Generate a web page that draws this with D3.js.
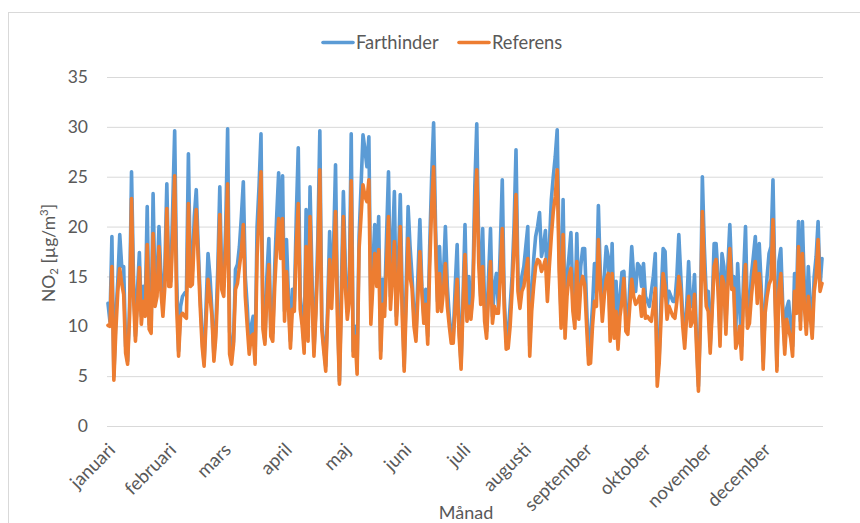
<!DOCTYPE html>
<html><head><meta charset="utf-8">
<script src="https://cdn.jsdelivr.net/npm/d3@7"></script>
<style>
body{margin:0;background:#fff}
svg{display:block}
text{font-family:Lato,"Open Sans",sans-serif;fill:#595959}
</style>
</head><body>
<svg id="c" width="860" height="523"></svg>
<script>
const months = ["januari","februari","mars","april","maj","juni","juli","augusti","september","oktober","november","december"];
const yTicks = [0,5,10,15,20,25,30,35];
const seriesNames = ["Farthinder","Referens"];
const year = 2019;

const farthinder = [
12.3,10.5,19.0,5.0,11,14.5,19.2,16.0,16.0,8.0,
6.5,12.0,25.5,15,9.0,13.5,17.4,11,14,12,
22,10.2,9.8,23.3,13,14.5,20,15,12,16,
24.3,14.5,14.5,22,29.6,15,7.5,12,13,13.3,
13.5,27.3,15,15.5,21,23.7,18,13,9,6.3,
12,17.3,15,11.5,7,10,16,24,14.5,14,
20,29.8,9.5,7,8.5,15.7,16.2,18,21,24.5,
15,12,8,10,11,7,20,24,29.3,10.5,
8.5,15,18.8,10,9.3,16,21,25.4,18,25.1,
11.5,18.7,13,8.5,13.7,12.5,21,27.9,13,11,
8,21.7,9,24,15,7.5,12,19,29.6,10.5,
8,6,12,19.5,13,18,26.2,12,4.5,14,
23.5,16,11.5,13.7,29.3,7.5,10,6,19,24,
29.2,27.7,26,29,11,16,20.2,16,21,7.5,
14.7,12,19,25.5,13,18,23.5,11,16,23.2,
13,6,14,22,18,15,11,9,15,20.7,
14,11,13.7,9,18,25,30.4,20,12.5,18,
13,15,20,14,11,9,9,14,18.2,10,
6.2,13,20.2,11,15,11,14,24,30.3,18,
13,19.8,12,9.5,15,19.8,11,14,15.3,12,
18,24.7,13,8.5,9.3,12,15,20,27.7,15,
13,15,16,18,20,8,13,16.7,19,20,
21.4,17,18,19.6,14,18,22.7,25,27,29.7,
17,11,22.7,10,15,17,19.4,13,11,19.3,
12,16,17.8,17.8,12,7,9,12,16.3,13.5,
22.1,15,11.5,15,18,17,10,18.3,10,14.5,
9,13,15.4,15.5,11,10,14,18,15,13.5,
16.3,16,14,16.3,13,12.5,12,13.5,15,17.3,
5,7,13,17.8,17.5,12,13.5,13,12.5,12.5,
15,19.2,15,11,9,12,16.5,12,12,15.2,
9,4,11,25,18,13,13.5,8,12,18.3,
18.3,15,9,17.3,16,10,16,20.2,15,15,
9,16.3,12,8,15,20,11,11.5,15.2,17,
19,13.5,18.3,14,6.5,12,15,17.3,18,24.7,
14,6,16.5,17.8,12,8,11.8,12.5,10,8,
15.3,13,20.5,10.5,20.5,14,10,16,12,9.5,
15,17,20.5,14,16.8
];

const referens = [
10.1,10.0,16.0,4.6,9.5,13.5,15.8,14.3,13.2,7.3,
6.2,11,22.8,13,8.5,12,15.9,10.2,12.5,11,
18.2,9.7,9.3,19.3,12,13,18,13.5,11,14,
21.8,14,14,19,25.1,12,7.0,11,11.3,11,
10.8,22.3,14,14.2,19,21.7,16.7,12,8,6,
10.5,14.7,13,11,6.5,9,14,21.2,13.7,13,
18,24.3,7.2,6.2,8.2,13.7,14.3,16,17.5,20.2,
13,10,7.2,9,9.2,6.2,17,21,25.5,9.7,
8.2,13,16.2,9,8.5,14,18,20.8,16.8,20.8,
10.5,15.5,12,7.8,11.7,11.5,18,22.3,11.7,10,
7.3,18,8.5,21,13,7,11.3,17,25.7,9.7,
7.5,5.5,11,16.7,11.8,16,21.5,10.5,4.2,12,
21,14,10.7,12.5,24.6,7,9,5.2,17.7,21,
24.2,23,22.5,24.7,10.2,14,17.3,14,17.7,6.8,
12.2,11,16,21,11.7,15,18.5,10.2,14,20,
11,5.5,12,18.8,15,13.8,10,8.5,13,17.5,
13.5,10.3,12.2,8.2,16,22,26,18.3,11.5,15.3,
11.5,13.5,16.3,12,10,8.3,8.3,12,14.7,9,
5.7,12,17.2,10.5,12,10.7,13,21,25.7,16.3,
12.2,16,10.5,8.8,13,16.5,10.3,12,11.3,11.3,
15,19.8,11.8,7.7,7.8,10,13.5,18,23.2,13.5,
11.8,13.5,14,15.5,16.8,7,11.5,14,16,16.7,
16.5,15.5,16,16.7,12.5,16,19,21.5,23,25.7,
15.5,9.8,19.2,8.8,13,15,15.8,11.5,9.8,16.5,
10.7,14,15,14.2,10,6.2,6.3,10,12.5,12,
18.7,14,10.5,13,14.7,15.3,8.5,15.3,8.8,11.5,
7.7,11,12.5,14.8,9.5,9.2,12,14.7,13,12.2,
12.5,13,11,13.7,10.8,11,10.7,10.5,12,13.8,
4,6.3,11,15.3,14,10.7,12,11.5,11,10.8,
12.5,15,13.5,10,7.8,11,13,10,10.5,13.2,
8,3.5,10,21.5,15.5,12,11.5,7.3,11.5,16,
16.7,13.5,8,15,14.3,9.2,14,17.8,13.7,13.8,
7.8,8.5,10,6.7,13,16.2,9.8,10.3,13,15,
16.5,12.3,15.3,13,5.7,11.3,13,14.2,14.7,20.7,
13,5.5,13.5,15.3,11,7.2,10.7,9.7,8.8,7,
13.5,11.3,18,9.7,17.3,12,9.2,13,11,8.8,
13.5,15,18.7,13.5,14.3
];

const svg = d3.select("#c");
const plot = {left:107, right:823, top:77, bottom:426};
const FS = 17.5;
const FSL = 18.5;
const nDays = farthinder.length;

const x = d3.scaleLinear().domain([0, nDays]).range([plot.left, plot.right]);
const y = d3.scaleLinear().domain([0, 35]).range([plot.bottom, plot.top]);

// chart border
svg.append("rect").attr("x",8.5).attr("y",12.5).attr("width",900).attr("height",600)
  .attr("fill","none").attr("stroke","#d9d9d9").attr("stroke-width",1);

// y axis with gridlines
const gy = svg.append("g").attr("transform",`translate(${plot.left},0)`)
  .call(d3.axisLeft(y).tickValues(yTicks).tickSize(-(plot.right-plot.left)).tickPadding(19));
gy.select(".domain").remove();
gy.selectAll(".tick line").attr("stroke","#d9d9d9").attr("stroke-width",1);
gy.selectAll(".tick text").attr("font-size",FS).attr("fill","#595959")
  .style("font-family","Lato, 'Open Sans', sans-serif");

// x axis month labels
const jan1 = new Date(year,0,1);
const monthStarts = months.map((m,i)=> d3.timeDay.count(jan1, new Date(year,i,1)));
const gx = svg.append("g").attr("transform",`translate(0,${plot.bottom})`)
  .call(d3.axisBottom(x).tickValues(monthStarts.map(d=>d+0.5)).tickSize(0)
    .tickFormat((d,i)=>months[i]));
gx.select(".domain").remove();
gx.selectAll(".tick text")
  .attr("font-size",FSL).attr("fill","#595959")
  .style("font-family","Lato, 'Open Sans', sans-serif")
  .attr("text-anchor","end").attr("y",0).attr("dy",0)
  .attr("transform","translate(8,25) rotate(-45)");

// lines
const line = d3.line().x((d,i)=>x(i+0.5)).y(d=>y(d)).curve(d3.curveLinear);
svg.append("path").datum(farthinder).attr("d",line).attr("fill","none")
  .attr("stroke","#5B9BD5").attr("stroke-width",3.6).attr("stroke-linejoin","round").attr("stroke-linecap","round");
svg.append("path").datum(referens).attr("d",line).attr("fill","none")
  .attr("stroke","#ED7D31").attr("stroke-width",3.6).attr("stroke-linejoin","round").attr("stroke-linecap","round");

// legend
const legend = [
  {name:seriesNames[0], color:"#5B9BD5", x:323},
  {name:seriesNames[1], color:"#ED7D31", x:459}
];
const lg = svg.append("g");
legend.forEach(l=>{
  lg.append("line").attr("x1",l.x).attr("x2",l.x+30).attr("y1",42.5).attr("y2",42.5)
    .attr("stroke",l.color).attr("stroke-width",3.6).attr("stroke-linecap","round");
  lg.append("text").attr("x",l.x+33).attr("y",49).attr("font-size",18.3).text(l.name);
});

// axis titles
const yt = svg.append("text").attr("transform","translate(55,253) rotate(-90)")
  .attr("text-anchor","middle").attr("font-size",FS);
yt.append("tspan").text("NO");
yt.append("tspan").attr("font-size",FS*0.65).attr("dy",3).text("2");
yt.append("tspan").attr("dy",-3).text(" [µg/m");
yt.append("tspan").attr("font-size",FS*0.65).attr("dy",-7).text("3");
yt.append("tspan").attr("dy",7).text("]");

svg.append("text").attr("x",466).attr("y",519).attr("text-anchor","middle")
  .attr("font-size",18).text("Månad");
</script>
</body></html>
